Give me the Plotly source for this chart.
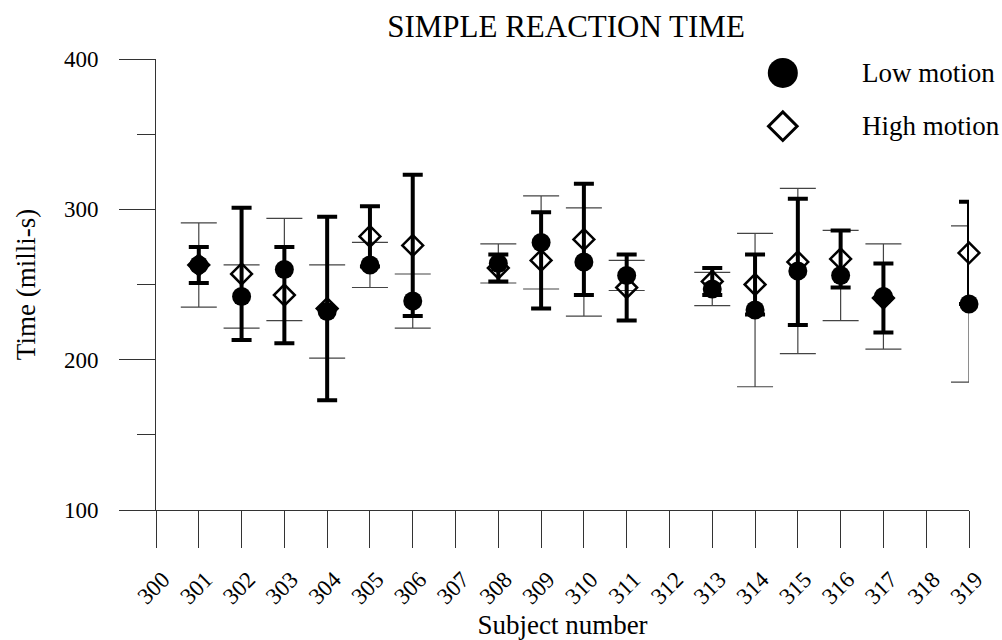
import plotly.graph_objects as go

# ---------------- data ----------------
subjects = [301, 302, 303, 304, 305, 306, 308, 309, 310, 311, 313, 314, 315, 316, 317, 319]
low_mean = [263, 242, 260, 232, 263, 239, 264, 278, 265, 256, 247, 233, 259, 256, 242, 237]
low_err = [28, 21, 34, 31, 15, 18, 13, 31, 36, 10, 11, 51, 55, 30, 35, 52]
high_mean = [263, 257, 243, 234, 282, 276, 261, 266, 280, 248, 252, 250, 265, 267, 241, 271]
high_err = [12, 44, 32, 61, 20, 47, 9, 32, 37, 22, 9, 20, 42, 19, 23, 34]

x_ticks = list(range(300, 320))
x_ticktext = [str(v) for v in x_ticks]
y_ticks = [100, 200, 300, 400]
y_ticktext = ["100", "200", "300", "400"]

series_names = ["Low motion", "High motion"]
title_text = "SIMPLE REACTION TIME"
x_title = "Subject number"
y_title = "Time (milli-s)"

FONT = "Liberation Serif, Times New Roman, serif"

fig = go.Figure()

# Low motion error bars (thin), drawn first
fig.add_trace(go.Scatter(
    x=subjects, y=low_mean, mode="markers",
    marker=dict(size=1, color="rgba(0,0,0,0)"),
    error_y=dict(type="data", array=low_err, visible=True,
                 color="#444444", thickness=1.2, width=18),
    showlegend=False, hoverinfo="skip", cliponaxis=False,
))

# High motion: thick error bars + open diamonds
fig.add_trace(go.Scatter(
    x=subjects, y=high_mean, mode="markers", name=series_names[1],
    marker=dict(symbol="diamond-open", size=16, color="black",
                line=dict(color="black", width=2.5)),
    error_y=dict(type="data", array=high_err, visible=True,
                 color="black", thickness=4, width=10),
    showlegend=False, cliponaxis=False,
))

# Low motion filled circles on top
fig.add_trace(go.Scatter(
    x=subjects, y=low_mean, mode="markers", name=series_names[0],
    marker=dict(symbol="circle", size=19, color="black", line=dict(width=0)),
    showlegend=False, cliponaxis=False,
))

# ---- manual legend glyphs (auxiliary hidden axes, paper-like 0..1) ----
leg_x = 0.771
leg_y = [0.969, 0.851]
fig.add_trace(go.Scatter(
    x=[leg_x], y=[leg_y[0]], xaxis="x2", yaxis="y2", mode="markers",
    marker=dict(symbol="circle", size=30, color="black", line=dict(width=0)),
    showlegend=False, hoverinfo="skip", cliponaxis=False,
))
fig.add_trace(go.Scatter(
    x=[leg_x], y=[leg_y[1]], xaxis="x2", yaxis="y2", mode="markers",
    marker=dict(symbol="diamond-open", size=22, color="black",
                line=dict(color="black", width=3)),
    showlegend=False, hoverinfo="skip", cliponaxis=False,
))

for name, yy in zip(series_names, leg_y):
    fig.add_annotation(
        x=0.866, y=yy, xref="paper", yref="paper", text=name,
        showarrow=False, xanchor="left", yanchor="middle",
        font=dict(family=FONT, size=27, color="black"),
    )

fig.update_layout(
    width=1002, height=640,
    margin=dict(l=156, r=33, t=59, b=130, autoexpand=False),
    paper_bgcolor="white", plot_bgcolor="white",
    font=dict(family=FONT, color="black"),
    title=dict(text=title_text, x=566 / 1002, xanchor="center",
               y=1 - 26 / 640, yanchor="middle", xref="container", yref="container",
               font=dict(family=FONT, size=31, color="black")),
    showlegend=False,
    xaxis=dict(
        range=[300, 319], tickmode="array", tickvals=x_ticks, ticktext=x_ticktext,
        tickangle=-45, ticks="outside", ticklen=37, tickwidth=1, tickcolor="#333333",
        ticklabelshift=7, ticklabelstandoff=9,
        showline=True, linecolor="#333333", linewidth=1, showgrid=False, zeroline=False,
        tickfont=dict(family=FONT, size=23, color="black"),
        title=dict(text=x_title, font=dict(family=FONT, size=27, color="black"), standoff=6),
        automargin=False,
    ),
    yaxis=dict(
        range=[100, 400], tickmode="array", tickvals=y_ticks, ticktext=y_ticktext,
        ticks="outside", ticklen=36, tickwidth=1, tickcolor="#333333",
        ticklabelstandoff=16,
        minor=dict(tickvals=[150, 250, 350], ticks="outside", ticklen=18,
                   tickwidth=1, tickcolor="#333333", showgrid=False),
        showline=True, linecolor="#333333", linewidth=1, showgrid=False, zeroline=False,
        tickfont=dict(family=FONT, size=23, color="black"),
        title=dict(text=y_title, font=dict(family=FONT, size=27, color="black"), standoff=20),
        automargin=False,
    ),
    xaxis2=dict(range=[0, 1], overlaying="x", visible=False, domain=[0, 1]),
    yaxis2=dict(range=[0, 1], overlaying="y", visible=False, domain=[0, 1]),
)

fig.write_html("out.html")
